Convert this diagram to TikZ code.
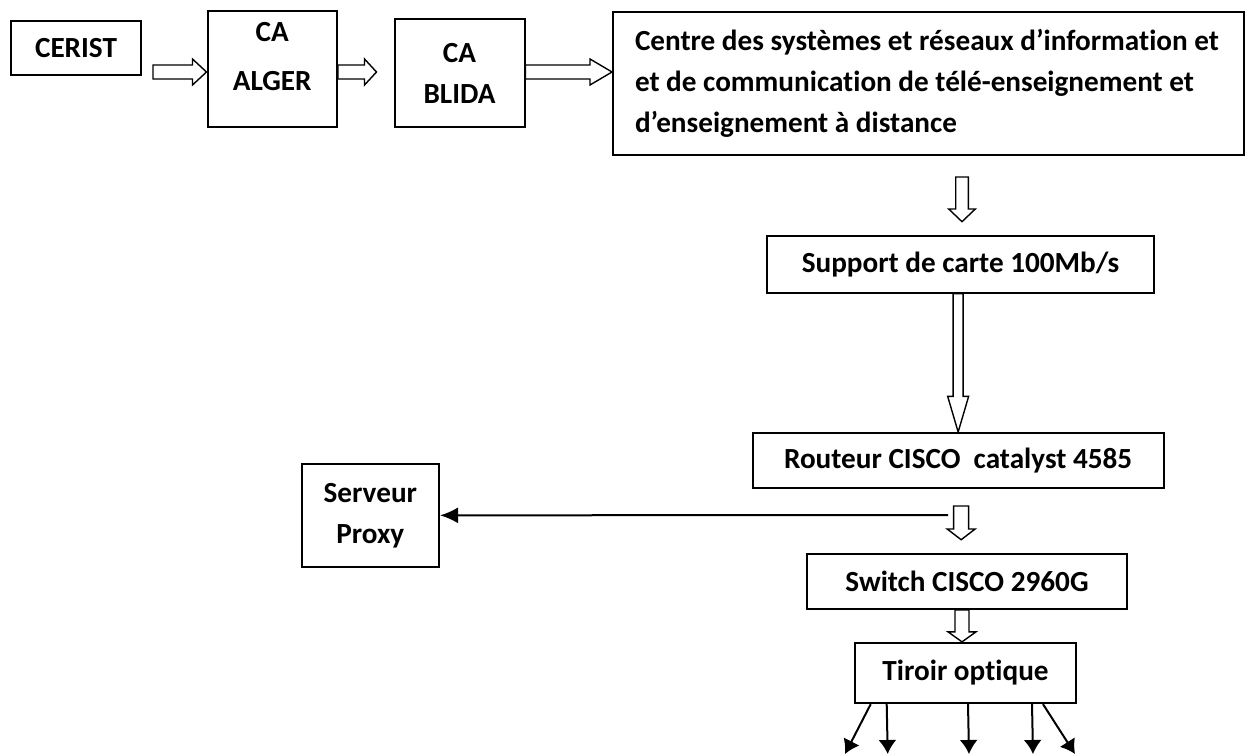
\documentclass[tikz,border=0pt]{standalone}
\usepackage{fontspec}
\setmainfont{Carlito}[RawFeature={-liga}]
\usetikzlibrary{calc,arrows.meta}

\begin{document}
\begin{tikzpicture}[x=0.5pt, y=-0.5pt,
    every node/.style={font=\fontsize{14.6}{20.5}\selectfont\bfseries},
    box/.style={draw, line width=1pt, inner sep=0pt, align=center},
    hollowright/.style n args={3}{line width=0.7pt, to path={
        ($(\tikztostart)+(0,-#1)$) -- ($(\tikztotarget)+(-#3,-#1)$) -- ($(\tikztotarget)+(-#3,-#2)$)
        -- (\tikztotarget) -- ($(\tikztotarget)+(-#3,#2)$) -- ($(\tikztotarget)+(-#3,#1)$)
        -- ($(\tikztostart)+(0,#1)$) -- cycle}},
    hollowdown/.style n args={3}{line width=0.7pt, to path={
        ($(\tikztostart)+(-#1,0)$) -- ($(\tikztotarget)+(-#1,-#3)$) -- ($(\tikztotarget)+(-#2,-#3)$)
        -- (\tikztotarget) -- ($(\tikztotarget)+(#2,-#3)$) -- ($(\tikztotarget)+(#1,-#3)$)
        -- ($(\tikztostart)+(#1,0)$) -- cycle}},
    fibre/.style={line width=1pt, -{Latex[length=7pt, width=9pt]}}
  ]
  \useasboundingbox (0,0) rectangle (1246,754);

  % top row
  \coordinate (row) at (0,72);
  \node[box, minimum width=65pt, minimum height=27pt] (cerist) at (76,48) {CERIST};
  \node[box, minimum width=64.75pt, minimum height=58pt, text depth=12pt] (alger) at (272.25,68.7) {CA\\[4pt]ALGER};
  \node[box, minimum width=65pt, minimum height=53.7pt] (blida) at (459.5,73) {CA\\BLIDA};
  \node[box, align=flush left, text width=293.5pt, minimum width=315.5pt, minimum height=71.65pt] (centre) at (928.5,83.35)
    {Centre des systèmes et réseaux d’information et\\et de communication de télé-enseignement et\\d’enseignement à distance};

  \draw[hollowright={7}{13}{14}] ($(cerist.east |- row)+(11,0)$) to (alger.west |- row);
  \draw[hollowright={7}{13}{12}] (alger.east |- row) to ($(blida.west |- row)+(-17,0)$);
  \draw[hollowright={7}{13}{22}] (blida.east |- row) to (centre.west |- row);

  % chain down
  \node[box, minimum width=193.5pt, minimum height=28.35pt] (sup) at (960.5,264.35) {Support de carte 100Mb/s};
  \node[box, minimum width=205.5pt, minimum height=27.5pt] (rout) at (958.15,460.5) {Routeur CISCO\ \ catalyst 4585};
  \node[box, minimum width=68.65pt, minimum height=51.35pt] (proxy) at (370.35,515.35) {Serveur\\Proxy};
  \node[box, minimum width=159.85pt, minimum height=27.5pt] (sw) at (967,581.5) {Switch CISCO 2960G};
  \node[box, minimum width=110.5pt, minimum height=30.15pt] (tir) at (965.5,673) {Tiroir optique};

  \draw[hollowdown={6.3}{13.3}{12.7}] ($(centre.south -| sup)+(1.5,21)$) to ($(sup.north)+(1.5,-13.3)$);
  \draw[hollowdown={5}{10.5}{35.7}] (sup.south -| rout.north) to (rout.north);
  \draw[hollowdown={7.5}{14}{10.7}] ($(rout.south)+(3,17)$) to ($(sw.north -| rout.south)+(3,-13.3)$);
  \draw[hollowdown={7}{14}{10}] ($(sw.south -| tir.north)+(-3.5,0)$) to ($(tir.north)+(-3.5,0)$);

  \coordinate (tap) at (948,515);
  \draw[line width=1pt, -{Latex[length=9pt, width=8pt]}] (tap) -- (proxy.east);

  \foreach \dx/\tx [count=\i] in {16.7/845, 32.7/887.7, 114/969, 178/1033, 189/1075} {
    \coordinate (out\i) at (\tx,754);
    \draw[fibre] ($(tir.south west)+(\dx,0)$) -- (out\i);
  }
\end{tikzpicture}
\end{document}
